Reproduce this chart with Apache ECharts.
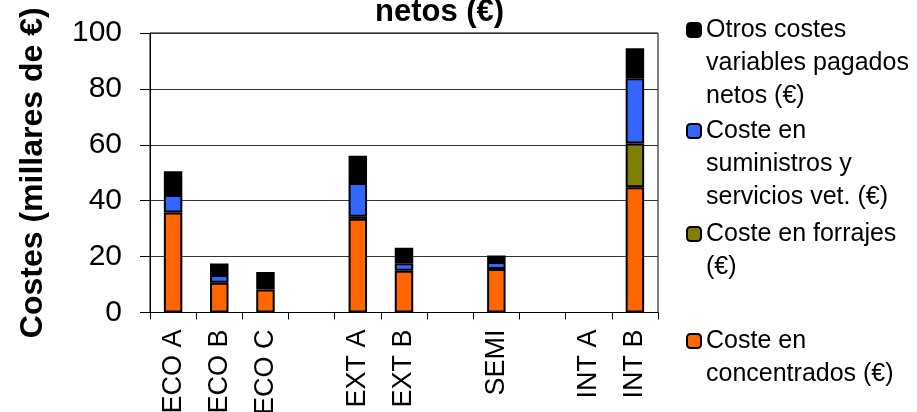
<!DOCTYPE html>
<html>
<head>
<meta charset="utf-8">
<script src="https://cdn.jsdelivr.net/npm/echarts@6/dist/echarts.min.js"></script>
<style>
  html, body { margin: 0; padding: 0; background: #fff; }
  #chart { width: 917px; height: 412px; }
</style>
</head>
<body>
<div id="chart"></div>
<script>
// categories (blank slots keep the gaps between groups)
const categories = ['ECO A', 'ECO B', 'ECO C', ' ', 'EXT A', 'EXT B', '  ', 'SEMI', '   ', 'INT A', 'INT B']

// costs in thousands of euros
const concentrados = [35.8, 10.6, 8.2, null, 33.5, 14.9, null, 15.6, null, null, 44.8]
const forrajes     = [null, null, null, null, 0.8, null, null, null, null, null, 15.7]
const suministros  = [6.2, 2.8, null, null, 12.0, 2.7, null, 2.5, null, null, 23.3]
const otros        = [8.5, 4.1, 6.3, null, 9.8, 5.6, null, 2.3, null, null, 10.7]

const yTicks = { min: 0, max: 100, interval: 20 }

const FONT = "'Liberation Sans', Arial, sans-serif"

const names = {
  otros: 'Otros costes variables pagados netos (€)',
  sum: 'Coste en suministros y servicios vet. (€)',
  forr: 'Coste en forrajes (€)',
  conc: 'Coste en concentrados (€)'
}
// leading blank lines put the first real line level with the marker
const legendText = {
  [names.otros]: '\n\nOtros costes\nvariables pagados\nnetos (€)',
  [names.sum]: '\n\nCoste en\nsuministros y\nservicios vet. (€)',
  [names.forr]: '\nCoste en forrajes\n(€)',
  [names.conc]: '\nCoste en\nconcentrados (€)'
}

const makeLegend = (name, top) => ({
  left: 686,
  top: top,
  orient: 'vertical',
  padding: 0,
  selectedMode: false,
  itemWidth: 14,
  itemHeight: 14,
  data: [name],
  formatter: n => legendText[n],
  textStyle: {
    fontFamily: FONT,
    fontSize: 25,
    lineHeight: 33,
    color: '#000'
  }
})

const bar = (name, data, color) => ({
  name,
  type: 'bar',
  stack: 'total',
  barWidth: '40%',
  data,
  itemStyle: { color, borderColor: '#000', borderWidth: 2 }
})

const chart = echarts.init(document.getElementById('chart'))

chart.setOption({
  animation: false,
  title: {
    text: 'netos (€)',
    left: 375,
    top: -3,
    padding: 0,
    textStyle: { fontFamily: FONT, fontSize: 31, fontWeight: 'bold', color: '#000' }
  },
  legend: [
    makeLegend(names.otros, 30 - 82.5),
    makeLegend(names.sum, 131 - 82.5),
    makeLegend(names.forr, 234 - 49.5),
    makeLegend(names.conc, 341 - 49.5)
  ],
  grid: {
    left: 150,
    right: 259,
    top: 33,
    bottom: 99.5,
    outerBoundsMode: 'none',
    show: true,
    borderColor: '#000',
    borderWidth: 1
  },
  xAxis: {
    type: 'category',
    data: categories,
    axisLine: { lineStyle: { color: '#000', width: 1 } },
    axisTick: { show: true, interval: 0, length: 7, lineStyle: { color: '#000' } },
    axisLabel: {
      interval: 0,
      rotate: 90,
      margin: 17,
      fontFamily: FONT,
      fontSize: 27,
      color: '#000'
    }
  },
  yAxis: {
    type: 'value',
    min: yTicks.min,
    max: yTicks.max,
    interval: yTicks.interval,
    name: 'Costes (millares de €)',
    nameLocation: 'middle',
    nameGap: 101,
    nameTextStyle: { fontFamily: FONT, fontSize: 32, fontWeight: 'bold', color: '#000' },
    axisLine: { show: true, lineStyle: { color: '#000', width: 1 } },
    axisTick: { show: true, length: 10, lineStyle: { color: '#000' } },
    axisLabel: { margin: 28, fontFamily: FONT, fontSize: 30, color: '#000' },
    splitLine: { lineStyle: { color: '#333', width: 1 } }
  },
  series: [
    bar(names.conc, concentrados, '#FF6600'),
    bar(names.forr, forrajes, '#808000'),
    bar(names.sum, suministros, '#3366FF'),
    bar(names.otros, otros, '#000000')
  ]
})
</script>
</body>
</html>
